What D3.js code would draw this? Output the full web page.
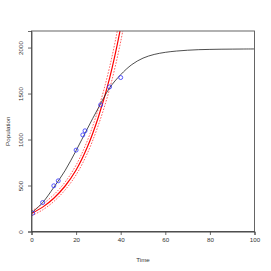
<!DOCTYPE html>
<html>
<head>
<meta charset="utf-8">
<script src="https://cdn.jsdelivr.net/npm/d3@7"></script>
<style>
  body { margin: 0; background: #fff; }
  svg { display: block; }
</style>
</head>
<body>
<script>
// Observed population counts
const obsTime = [0.5, 5, 10, 12, 20, 23, 24, 31, 35, 40];
const obsPop  = [200, 315, 497, 551, 885, 1050, 1095, 1377, 1572, 1674];

// Logistic fit (black)
const fitTime = [0, 5, 10, 15, 20, 25, 30, 35, 40, 45, 50, 55, 60, 65, 70, 75, 80, 85, 90, 95, 100];
const fitPop  = [200, 315, 480, 660, 880, 1115, 1345, 1560, 1705, 1815, 1885, 1925, 1948, 1962, 1971, 1977, 1980, 1982, 1983, 1984, 1985];

// Exponential fit (red) with its band
const expTime  = [0, 5, 10, 15, 20, 25, 30, 35, 40, 45];
const expPop   = [195, 265, 362, 492, 668, 915, 1245, 1665, 2220, 2950];
const expUpper = [222, 298, 400, 535, 722, 985, 1335, 1785, 2380, 3160];
const expLower = [170, 235, 326, 450, 616, 848, 1158, 1548, 2065, 2750];

const xTicks = [0, 20, 40, 60, 80, 100];
const yTicks = [0, 500, 1000, 1500, 2000];

const width = 271, height = 271;
const mLeft = 31.5, mRight = 254.5, mTop = 31, mBottom = 231.5;

const x = d3.scaleLinear().domain([0, 100]).range([mLeft, mRight]);
const y = d3.scaleLinear().domain([0, 2180]).range([mBottom, mTop]);

const svg = d3.select("body").append("svg")
    .attr("width", width)
    .attr("height", height)
    .style("font-family", "'Liberation Sans', Arial, sans-serif");

svg.append("clipPath").attr("id", "plot")
  .append("rect")
    .attr("x", mLeft).attr("y", mTop)
    .attr("width", mRight - mLeft).attr("height", mBottom - mTop);

const g = svg.append("g").attr("clip-path", "url(#plot)");

const line = (ts) => d3.line()
    .x((d, i) => x(ts[i]))
    .y(d => y(d))
    .curve(d3.curveCatmullRom);

// Red band (dotted) and red fit
[expUpper, expLower].forEach(arr => {
  g.append("path")
      .attr("d", line(expTime)(arr))
      .attr("fill", "none")
      .attr("stroke", "#ff4d4d")
      .attr("stroke-width", 0.9)
      .attr("stroke-dasharray", "1.6,1.4");
});

g.append("path")
    .attr("d", line(expTime)(expPop))
    .attr("fill", "none")
    .attr("stroke", "#ff0000")
    .attr("stroke-width", 1.2);

// Black logistic fit
g.append("path")
    .attr("d", line(fitTime)(fitPop))
    .attr("fill", "none")
    .attr("stroke", "#222")
    .attr("stroke-width", 0.8);

// Observations
g.selectAll("circle")
  .data(obsTime)
  .join("circle")
    .attr("cx", d => x(d))
    .attr("cy", (d, i) => y(obsPop[i]))
    .attr("r", 2)
    .attr("fill", "none")
    .attr("stroke", "#3030ff")
    .attr("stroke-width", 0.8);

// Box
svg.append("rect")
    .attr("x", mLeft).attr("y", mTop)
    .attr("width", mRight - mLeft).attr("height", mBottom - mTop)
    .attr("fill", "none")
    .attr("stroke", "#555")
    .attr("stroke-width", 0.9);

// X axis
const xAxis = svg.append("g")
    .attr("transform", `translate(0,${mBottom})`)
    .call(d3.axisBottom(x).tickValues(xTicks).tickSize(3.5).tickPadding(2.5))
    .style("font-size", "6.2px");
xAxis.select(".domain").attr("stroke", "#333").attr("stroke-width", 0.9);
xAxis.selectAll(".tick line").attr("stroke", "#444").attr("stroke-width", 0.8);
xAxis.selectAll("text").attr("fill", "#333");

// Y axis
const yAxis = svg.append("g")
    .attr("transform", `translate(${mLeft},0)`)
    .call(d3.axisLeft(y).tickValues(yTicks).tickSize(3.5).tickFormat(d3.format("d")))
    .style("font-size", "6.2px");
yAxis.select(".domain").attr("stroke", "#444").attr("stroke-width", 0.8);
yAxis.selectAll(".tick line").attr("stroke", "#444").attr("stroke-width", 0.8);
yAxis.selectAll("text")
    .attr("fill", "#333")
    .attr("x", null).attr("dy", null)
    .attr("text-anchor", "middle")
    .attr("transform", "translate(-8.5,0) rotate(-90)");

// Axis titles
svg.append("text")
    .attr("x", (mLeft + mRight) / 2)
    .attr("y", 261.5)
    .attr("text-anchor", "middle")
    .style("font-size", "6.2px")
    .attr("fill", "#333")
    .text("Time");

svg.append("text")
    .attr("transform", `translate(10,${(mTop + mBottom) / 2}) rotate(-90)`)
    .attr("text-anchor", "middle")
    .style("font-size", "6.2px")
    .attr("fill", "#333")
    .text("Population");
</script>
</body>
</html>
